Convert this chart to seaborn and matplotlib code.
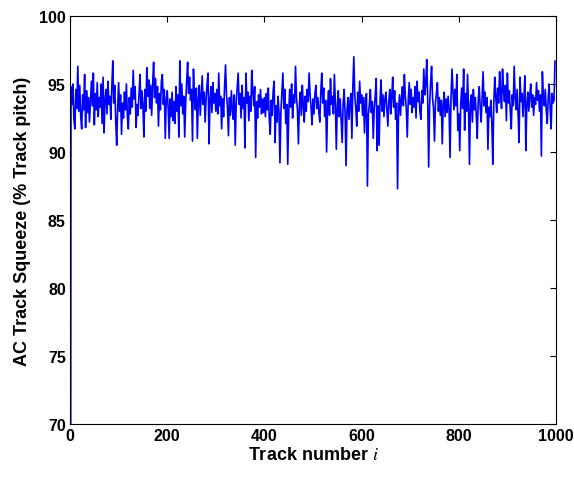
import numpy as np
import matplotlib
matplotlib.use("Agg")
import matplotlib.pyplot as plt
import seaborn as sns

# track numbers (every 2nd track)
tracks = np.arange(0, 1000, 2)

# AC track squeeze values, % of track pitch
squeeze = [
    0.0, 94.8, 93.5, 95.0, 92.4, 91.7, 94.6, 93.2, 96.3, 93.0, 94.9, 92.6, 91.7, 94.2, 93.1, 95.7, 91.8, 94.5, 92.9, 94.0, 92.2, 93.6, 95.2, 93.4, 95.8,
    92.0, 94.3, 93.1, 95.1, 92.6, 94.0, 93.3, 95.0, 92.1, 95.5, 91.4, 93.8, 94.6, 92.8, 95.2, 93.5, 94.1, 92.4, 94.8, 96.7, 93.6, 94.9, 92.3, 90.5, 93.2,
    95.1, 93.0, 94.2, 91.3, 93.6, 92.5, 94.4, 93.1, 95.0, 92.6, 91.7, 94.0, 92.8, 94.7, 93.3, 96.0, 93.9, 94.8, 91.8, 93.5, 92.7, 94.3, 95.7, 93.2, 94.5,
    93.4, 91.1, 94.6, 93.0, 96.2, 94.1, 95.3, 93.2, 94.9, 92.7, 95.0, 96.6, 94.0, 95.4, 93.6, 94.8, 91.9, 94.3, 93.1, 95.2, 95.7, 93.5, 94.6, 91.0, 93.8,
    94.5, 93.2, 91.0, 93.9, 92.6, 94.4, 92.3, 93.7, 92.1, 94.8, 93.0, 94.2, 91.1, 96.7, 93.4, 95.0, 92.8, 94.1, 91.1, 93.6, 95.2, 96.6, 94.3, 95.5, 93.8,
    94.6, 90.8, 96.1, 94.0, 93.1, 94.7, 91.0, 93.8, 94.9, 92.7, 94.2, 95.6, 93.5, 94.4, 92.2, 93.9, 95.0, 95.8, 90.6, 93.7, 94.8, 92.9, 95.1, 93.6, 94.3,
    93.0, 94.6, 92.8, 95.8, 93.4, 94.1, 91.7, 93.9, 92.6, 94.8, 96.4, 94.2, 93.3, 91.2, 94.0, 92.7, 94.5, 93.1, 92.4, 94.2, 90.5, 93.6, 94.7, 95.8, 93.5,
    94.3, 92.5, 94.9, 93.2, 94.0, 90.3, 95.8, 93.6, 94.4, 92.3, 94.1, 93.0, 96.0, 94.5, 93.4, 94.8, 89.6, 93.7, 92.5, 94.2, 93.3, 94.6, 92.8, 93.9, 92.9,
    94.0, 92.6, 94.3, 93.1, 94.7, 92.4, 91.3, 93.8, 92.7, 94.5, 95.2, 90.7, 93.4, 92.2, 94.1, 92.9, 89.2, 93.0, 94.4, 95.8, 93.2, 94.6, 92.1, 93.5, 89.1,
    92.8, 94.6, 93.3, 95.0, 92.5, 94.2, 93.6, 96.3, 94.0, 93.1, 90.6, 93.5, 94.4, 92.7, 94.9, 93.4, 92.2, 94.1, 93.0, 94.6, 93.7, 95.8, 94.2, 93.3, 92.0,
    93.9, 92.8, 94.3, 94.9, 93.2, 94.0, 92.9, 92.2, 94.4, 95.8, 93.6, 94.7, 92.6, 93.8, 90.0, 93.3, 94.5, 92.7, 95.4, 93.5, 94.1, 92.8, 95.7, 93.6, 90.2,
    93.4, 94.5, 92.6, 93.9, 92.3, 90.7, 93.5, 94.6, 92.9, 89.0, 93.1, 94.0, 92.4, 93.7, 94.3, 91.0, 94.8, 97.0, 94.1, 93.2, 91.9, 94.4, 93.0, 95.2, 93.6,
    94.2, 92.7, 94.0, 91.4, 93.6, 94.3, 87.5, 92.8, 93.5, 94.6, 92.9, 93.7, 91.0, 93.2, 94.1, 95.4, 90.1, 93.4, 90.5, 93.8, 95.3, 93.0, 94.2, 92.6, 93.9,
    94.4, 93.1, 91.9, 93.7, 94.6, 92.8, 94.0, 95.5, 93.3, 94.5, 92.4, 93.6, 87.3, 93.0, 94.2, 92.7, 93.9, 94.8, 93.4, 95.7, 94.1, 93.2, 91.1, 93.8, 95.1,
    93.5, 94.6, 92.9, 94.0, 93.3, 94.8, 92.5, 95.2, 93.7, 94.4, 93.0, 92.4, 94.5, 93.6, 96.1, 94.2, 95.0, 96.8, 93.9, 88.9, 93.4, 95.1, 96.3, 94.0, 93.2,
    90.8, 93.6, 94.3, 95.1, 93.0, 94.0, 92.7, 93.8, 90.6, 93.5, 94.4, 92.6, 93.9, 92.9, 94.1, 93.2, 89.6, 94.0, 96.1, 94.5, 93.1, 94.6, 93.4, 95.7, 91.6,
    92.8, 90.1, 93.5, 94.7, 93.2, 96.1, 91.6, 94.3, 93.0, 95.7, 93.4, 89.1, 93.6, 94.2, 92.2, 94.6, 93.1, 94.0, 92.7, 91.0, 93.8, 94.8, 93.3, 92.2, 94.1,
    95.9, 93.4, 94.4, 92.9, 94.0, 90.2, 93.3, 92.6, 93.8, 92.1, 89.1, 93.5, 95.5, 94.1, 92.9, 94.7, 93.6, 95.9, 94.3, 93.2, 96.1, 94.5, 93.7, 94.9, 92.3,
    95.8, 93.6, 94.5, 93.0, 91.7, 94.2, 93.4, 96.3, 94.0, 93.1, 94.6, 92.8, 90.7, 95.5, 93.7, 94.3, 92.6, 93.9, 95.6, 90.1, 93.5, 94.4, 93.0, 94.1, 95.0,
    93.3, 94.2, 92.7, 94.0, 93.5, 95.1, 93.8, 94.5, 93.0, 94.2, 89.7, 95.9, 94.1, 93.4, 94.6, 93.1, 92.1, 94.0, 95.0, 93.2, 91.7, 94.3, 93.6, 93.8, 96.7,
]

xticks = [0, 200, 400, 600, 800, 1000]
yticks = [70, 75, 80, 85, 90, 95, 100]

sns.set_style("white")
plt.rcParams['font.family'] = ['Liberation Sans', 'DejaVu Sans']
plt.rcParams['mathtext.fontset'] = 'stix'
plt.rcParams['text.color'] = 'black'
plt.rcParams['axes.labelcolor'] = 'black'

fig = plt.figure(figsize=(5.74, 4.81), dpi=100)
ax = fig.add_axes([0.122, 0.1164, 0.8466, 0.8483])

sns.lineplot(x=tracks, y=squeeze, ax=ax, color=(0, 0, 1), linewidth=1.2, estimator=None)

ax.set_xlim(0, 1000)
ax.set_ylim(70, 100)
ax.set_xticks(xticks)
ax.set_yticks(yticks)
ax.tick_params(direction='in', length=4, width=0.8, top=True, right=True,
               labelsize=11.5, pad=3, colors='black')
for lab in ax.get_xticklabels() + ax.get_yticklabels():
    lab.set_fontweight('bold')
for sp in ax.spines.values():
    sp.set_visible(True)
    sp.set_color('black')
    sp.set_linewidth(0.8)

ax.set_xlabel(r'Track number $i$', fontsize=13, fontweight='bold', labelpad=2)
ax.set_ylabel('AC Track Squeeze (% Track pitch)', fontsize=13, fontweight='bold', labelpad=6)

fig.savefig('out.png', dpi=100)
